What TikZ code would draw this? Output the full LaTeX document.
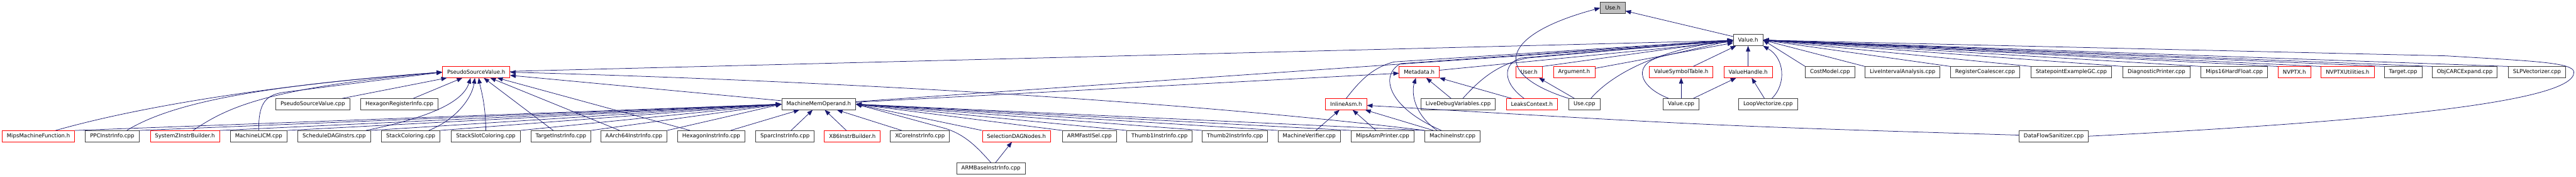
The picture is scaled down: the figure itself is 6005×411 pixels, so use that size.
\documentclass[tikz,border=0pt]{standalone}
\usepackage{fontspec}
\setmainfont{DejaVu Sans}
\usetikzlibrary{arrows.meta}
\definecolor{link}{HTML}{191970}
\definecolor{frame}{HTML}{404040}
\definecolor{cut}{HTML}{FF0000}
\definecolor{rootgray}{HTML}{BFBFBF}
\tikzset{
  font=\fontsize{12.6}{15}\selectfont,
  filebox/.style={draw=frame, line width=1.3pt, fill=white, minimum height=25.6pt, inner xsep=11pt, inner ysep=0pt, text=black},
  cutbox/.style={filebox, draw=cut, line width=1.1pt},
  rootbox/.style={filebox, fill=rootgray},
  dep/.style={-{Triangle[length=13pt,width=10pt]}, draw=link, line width=1.1pt},
}

\begin{document}
\begin{tikzpicture}[x=1pt,y=-1pt]
\useasboundingbox (0,0) rectangle (6005,411);
% row 0 and 1
\node[rootbox] (useh) at (3759.5,18.5) {Use.h};
\node[filebox] (valh) at (4075,93.3) {Value.h};

% row 2
\node[cutbox] (psvh) at (1110,168) {PseudoSourceValue.h};
\node[cutbox] (mdh) at (3308.5,168) {Metadata.h};
\node[cutbox] (userh) at (3564.5,168) {User.h};
\node[cutbox] (argh) at (3669.5,168) {Argument.h};
\node[cutbox] (vsth) at (3919,168) {ValueSymbolTable.h};
\node[cutbox] (vhh) at (4075,168) {ValueHandle.h};
\node[filebox] (costm) at (4266,168) {CostModel.cpp};
\node[filebox] (lia) at (4435,168) {LiveIntervalAnalysis.cpp};
\node[filebox] (regc) at (4627.5,168) {RegisterCoalescer.cpp};
\node[filebox] (spgc) at (4828.5,168) {StatepointExampleGC.cpp};
\node[filebox] (diagp) at (5027,168) {DiagnosticPrinter.cpp};
\node[filebox] (m16hf) at (5208.5,168) {Mips16HardFloat.cpp};
\node[cutbox] (nvptxh) at (5348.5,168) {NVPTX.h};
\node[cutbox] (nvptxu) at (5472.5,168) {NVPTXUtilities.h};
\node[filebox] (targ) at (5602,168) {Target.cpp};
\node[filebox] (objc) at (5745.5,168) {ObjCARCExpand.cpp};
\node[filebox] (slpv) at (5914,168) {SLPVectorizer.cpp};

% row 3
\node[filebox] (psvc) at (729,242.5) {PseudoSourceValue.cpp};
\node[filebox] (hexri) at (931,242.5) {HexagonRegisterInfo.cpp};
\node[filebox] (mmoh) at (1908.5,242.5) {MachineMemOperand.h};
\node[cutbox] (iasm) at (3138,242.5) {InlineAsm.h};
\node[filebox] (ldv) at (3399,242.5) {LiveDebugVariables.cpp};
\node[cutbox] (leaks) at (3571,242.5) {LeaksContext.h};
\node[filebox] (usec) at (3693.5,242.5) {Use.cpp};
\node[filebox] (valc) at (3919,242.5) {Value.cpp};
\node[filebox] (loopv) at (4121.5,242.5) {LoopVectorize.cpp};

% row 4
\node[cutbox] (mipsmf) at (89.5,317) {MipsMachineFunction.h};
\node[filebox] (ppcii) at (261.5,317) {PPCInstrInfo.cpp};
\node[cutbox] (szib) at (431,317) {SystemZInstrBuilder.h};
\node[filebox] (mlicm) at (603,317) {MachineLICM.cpp};
\node[filebox] (sdag) at (779,317) {ScheduleDAGInstrs.cpp};
\node[filebox] (stcol) at (957.5,317) {StackColoring.cpp};
\node[filebox] (sscol) at (1132.5,317) {StackSlotColoring.cpp};
\node[filebox] (tii) at (1307.5,317) {TargetInstrInfo.cpp};
\node[filebox] (a64ii) at (1477.5,317) {AArch64InstrInfo.cpp};
\node[filebox] (hexii) at (1658,317) {HexagonInstrInfo.cpp};
\node[filebox] (sparcii) at (1830,317) {SparcInstrInfo.cpp};
\node[cutbox] (x86ib) at (1987,317) {X86InstrBuilder.h};
\node[filebox] (xcoreii) at (2144.5,317) {XCoreInstrInfo.cpp};
\node[cutbox] (sdnh) at (2369.5,317) {SelectionDAGNodes.h};
\node[filebox] (armfi) at (2539.5,317) {ARMFastISel.cpp};
\node[filebox] (th1ii) at (2703,317) {Thumb1InstrInfo.cpp};
\node[filebox] (th2ii) at (2879,317) {Thumb2InstrInfo.cpp};
\node[filebox] (mverif) at (3052,317) {MachineVerifier.cpp};
\node[filebox] (mipsap) at (3223,317) {MipsAsmPrinter.cpp};
\node[filebox] (minstr) at (3386,317) {MachineInstr.cpp};
\node[filebox] (dfsan) at (4787.5,317) {DataFlowSanitizer.cpp};

% row 5
\node[filebox] (armbii) at (2310,392) {ARMBaseInstrInfo.cpp};

% edges to Use.h
\draw[dep] (valh) -- (useh);
\draw[dep] (usec.north west) .. controls (3470,170) and (3500,80) .. (useh.west);

% edges to Value.h, left side
\draw[dep] (psvh) -- (valh);
\draw[dep] (mmoh) -- (valh);
\draw[dep] (mdh) -- (valh);
\draw[dep] (userh.north east) -- (valh.west);
\draw[dep] (argh) -- (valh);
\draw[dep] (iasm.north) .. controls (3165,195) and (3195,158) .. (3250,144) -- (valh.west);
\draw[dep] ([xshift=-26pt]minstr.north) .. controls (3235,250) and (3215,175) .. (3265,148) -- (valh.west);
\draw[dep] ([xshift=11pt]ldv.north) .. controls (3450,185) and (3490,150) .. (3560,135) -- (valh.west);
\draw[dep] ([xshift=-18pt]leaks.north) .. controls (3505,195) and (3500,150) .. (3545,135) -- (valh.west);
\draw[dep] ([xshift=15pt]usec.north) .. controls (3760,170) and (3870,115) .. (valh.west);
\draw[dep] ([xshift=-29pt]valc.north) .. controls (3815,200) and (3805,145) .. (3880,130) -- (valh.west);

% edges to Value.h, below and right
\draw[dep] (vsth) -- (valh);
\draw[dep] (vhh) -- (valh);
\draw[dep] ([xshift=9pt]loopv.north) .. controls (4165,195) and (4160,135) .. (valh.south east);
\foreach \n in {costm,lia,regc,spgc,diagp,m16hf,nvptxh,nvptxu,targ,objc,slpv}
  \draw[dep] (\n.north west) -- (valh.east);
\draw[dep] (dfsan.east) .. controls (5500,285) and (6003,240) .. (6000,168) .. controls (6000,145) and (5900,142) .. (5702,130) -- (valh.east);

% row 3 to row 2
\draw[dep] (valc) -- (vsth);
\draw[dep] (valc) -- (vhh);
\draw[dep] (loopv) -- (vhh);
\draw[dep] (usec) -- (userh);
\draw[dep] (leaks) -- (mdh);
\draw[dep] (ldv) -- (mdh);
\draw[dep] (mmoh) -- (mdh);
\draw[dep] ([xshift=-36pt]minstr.north) .. controls (3295,265) and (3290,215) .. ([xshift=-8pt]mdh.south);

% edges to PseudoSourceValue.h
\draw[dep] ([xshift=40pt]mipsmf.north) .. controls (300,255) and (600,200) .. (psvh.west);
\draw[dep] ([xshift=34pt]ppcii.north) .. controls (400,240) and (600,200) .. (psvh.west);
\draw[dep] ([xshift=19pt]szib.north) .. controls (530,250) and (620,205) .. (psvh.west);
\draw[dep] (mlicm.north) .. controls (603,245) and (615,222) .. (660,215) -- (psvh.west);
\foreach \n in {psvc,hexri,tii,a64ii,hexii,mmoh} \draw[dep] (\n) -- (psvh);
\draw[dep] ([xshift=74pt]sdag.north) .. controls (1010,272) and (1080,235) .. ([xshift=-13pt]psvh.south);
\draw[dep] ([xshift=42pt]stcol.north) .. controls (1060,280) and (1100,230) .. ([xshift=-3pt]psvh.south);
\draw[dep] (sscol.north) .. controls (1132,240) and (1120,205) .. ([xshift=6pt]psvh.south);
\draw[dep] (minstr.north west) .. controls (2800,240) and (2000,190) .. (psvh.east);

% edges to MachineMemOperand.h
\foreach \n in {mipsmf,ppcii,szib,mlicm,sdag,stcol,sscol,tii,a64ii} \draw[dep] (\n.north east) -- (mmoh.west);
\foreach \n in {hexii,sparcii,x86ib,xcoreii} \draw[dep] (\n) -- (mmoh);
\foreach \n in {sdnh,armfi,th1ii,th2ii,mverif,mipsap,minstr} \draw[dep] (\n.north west) -- (mmoh.east);
\draw[dep] (armbii.north) .. controls (2280,345) and (2250,312) .. (2200,298) -- (mmoh.east);
\draw[dep] (armbii) -- (sdnh);

% edges to InlineAsm.h
\foreach \n in {mverif,mipsap,minstr} \draw[dep] (\n) -- (iasm);
\draw[dep] (dfsan) .. controls (4000,293) .. (iasm);
\end{tikzpicture}
\end{document}
